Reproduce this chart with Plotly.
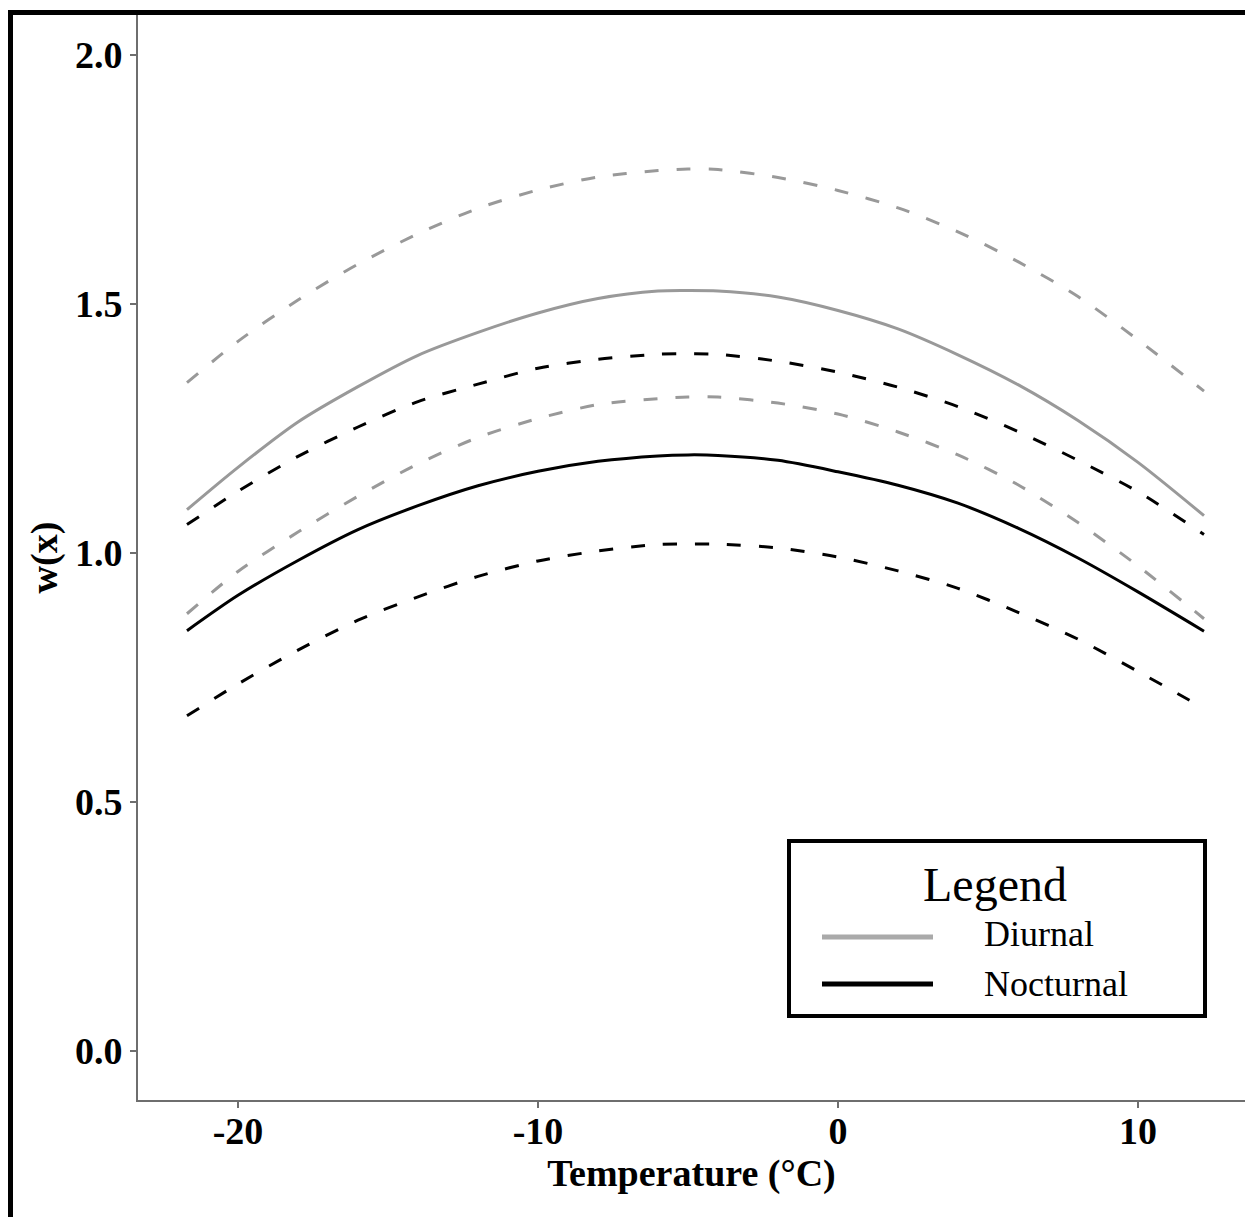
import plotly.graph_objects as go

# ---- data ----
temperature = [-21.7, -20, -18, -16, -14, -12, -10, -8, -6, -5, -4, -2, 0, 2, 4, 6, 8, 10, 12.2]

diurnal_mean = [1.087, 1.172, 1.263, 1.334, 1.397, 1.443, 1.482, 1.511, 1.526, 1.527, 1.526,
                1.514, 1.487, 1.450, 1.398, 1.338, 1.266, 1.182, 1.075]
diurnal_upper = [1.342, 1.425, 1.508, 1.580, 1.641, 1.692, 1.729, 1.755, 1.768, 1.771, 1.770,
                 1.754, 1.728, 1.693, 1.645, 1.585, 1.515, 1.428, 1.325]
diurnal_lower = [0.878, 0.963, 1.042, 1.114, 1.179, 1.232, 1.270, 1.298, 1.310, 1.313, 1.313,
                 1.301, 1.279, 1.243, 1.197, 1.137, 1.061, 0.974, 0.868]

nocturnal_mean = [0.844, 0.915, 0.985, 1.047, 1.095, 1.135, 1.164, 1.184, 1.195, 1.197, 1.196,
                  1.186, 1.163, 1.136, 1.100, 1.050, 0.990, 0.922, 0.843]
nocturnal_upper = [1.057, 1.124, 1.194, 1.253, 1.304, 1.339, 1.371, 1.389, 1.399, 1.400, 1.399,
                   1.385, 1.363, 1.333, 1.294, 1.244, 1.186, 1.123, 1.037]
nocturnal_lower = [0.673, 0.737, 0.805, 0.865, 0.912, 0.953, 0.984, 1.004, 1.017, 1.018, 1.018,
                   1.010, 0.992, 0.964, 0.929, 0.881, 0.827, 0.762, 0.688]

x_ticks = [-20, -10, 0, 10]
y_ticks = [0.0, 0.5, 1.0, 1.5, 2.0]
series_names = ["Diurnal", "Nocturnal"]

GRAY = "#999999"
BLACK = "#000000"
SERIF = "Liberation Serif, Times New Roman, serif"
DASH = "14px,18px"

W, H = 1245, 1217
ML, MR, MT, MB = 138, 0, 15, 117
PW, PH = W - ML - MR, H - MT - MB


def px(x):
    return (x - ML) / PW


def py(y):
    return (H - MB - y) / PH


fig = go.Figure()

for ys, col, dash, name in [
    (diurnal_upper, GRAY, DASH, "Diurnal upper"),
    (diurnal_lower, GRAY, DASH, "Diurnal lower"),
    (diurnal_mean, GRAY, "solid", "Diurnal"),
    (nocturnal_upper, BLACK, DASH, "Nocturnal upper"),
    (nocturnal_lower, BLACK, DASH, "Nocturnal lower"),
    (nocturnal_mean, BLACK, "solid", "Nocturnal"),
]:
    fig.add_trace(go.Scatter(x=temperature, y=ys, mode="lines", name=name,
                             line=dict(color=col, width=3, dash=dash, shape="spline", smoothing=0.8),
                             showlegend=False))

shapes = []
# outer black frame (left and top visible)
shapes.append(dict(type="line", xref="paper", yref="paper", x0=px(10.5), x1=px(10.5),
                   y0=py(H + 10), y1=py(10), line=dict(color="black", width=5)))
shapes.append(dict(type="line", xref="paper", yref="paper", x0=px(8), x1=px(W + 10),
                   y0=py(12.5), y1=py(12.5), line=dict(color="black", width=5)))
# legend box
shapes.append(dict(type="rect", xref="paper", yref="paper", x0=px(789), x1=px(1205),
                   y0=py(1016), y1=py(841), line=dict(color="black", width=4),
                   fillcolor="white"))
# legend keys
for yy, col in [(937, "#aaaaaa"), (984, BLACK)]:
    shapes.append(dict(type="line", xref="paper", yref="paper", x0=px(822), x1=px(933),
                       y0=py(yy), y1=py(yy), line=dict(color=col, width=5)))

annotations = [
    dict(text="Legend", xref="paper", yref="paper", x=px(995), y=py(884), showarrow=False,
         xanchor="center", yanchor="middle", font=dict(family=SERIF, size=48, color="black")),
    dict(text=series_names[0], xref="paper", yref="paper", x=px(982), y=py(934), showarrow=False,
         xanchor="left", yanchor="middle", font=dict(family=SERIF, size=36, color="black")),
    dict(text=series_names[1], xref="paper", yref="paper", x=px(982), y=py(984), showarrow=False,
         xanchor="left", yanchor="middle", font=dict(family=SERIF, size=36, color="black")),
]

fig.update_layout(
    width=W, height=H,
    margin=dict(l=ML, r=MR, t=MT, b=MB, pad=0),
    paper_bgcolor="white", plot_bgcolor="white",
    showlegend=False,
    shapes=shapes,
    annotations=annotations,
    xaxis=dict(
        range=[-23.333, 13.567], tickvals=x_ticks, ticktext=[str(v) for v in x_ticks],
        showgrid=False, zeroline=False, showline=True, linecolor="#6e6e6e", linewidth=2,
        ticks="outside", ticklen=6, tickwidth=2, tickcolor="#6e6e6e", ticklabelstandoff=-10,
        tickfont=dict(family=SERIF, size=38, color="black", weight="bold"),
        title=dict(text="Temperature (°C)", standoff=4,
                   font=dict(family=SERIF, size=38, color="black", weight="bold")),
    ),
    yaxis=dict(
        range=[-0.0984, 2.0803], tickvals=y_ticks, ticktext=[f"{v:.1f}" for v in y_ticks],
        showgrid=False, zeroline=False, showline=True, linecolor="#6e6e6e", linewidth=2,
        ticks="outside", ticklen=6, tickwidth=2, tickcolor="#6e6e6e",
        tickfont=dict(family=SERIF, size=38, color="black", weight="bold"),
        title=dict(text="w(x)", standoff=6,
                   font=dict(family=SERIF, size=38, color="black", weight="bold")),
    ),
)

fig.write_html("out.html")
